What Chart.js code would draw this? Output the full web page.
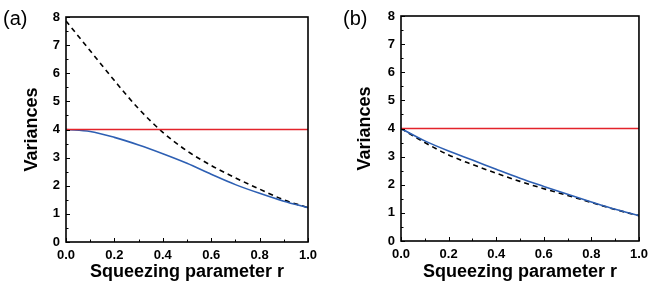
<!DOCTYPE html>
<html>
<head>
<meta charset="utf-8">
<script src="https://cdn.jsdelivr.net/npm/chart.js@4/dist/chart.umd.min.js"></script>
<style>
  body { margin: 0; background: #fff; }
  #wrap { position: relative; width: 654px; height: 289px; overflow: hidden; }
  canvas { position: absolute; top: 0; }
  .tag { position: absolute; font: 20px "Liberation Sans", Arial, sans-serif; color: #000; line-height: 20px; }
</style>
</head>
<body>
<div id="wrap">
  <canvas id="chartA" width="327" height="289" style="left:0"></canvas>
  <canvas id="chartB" width="327" height="289" style="left:327px"></canvas>
  <div class="tag" style="left:3px; top:8px">(a)</div>
  <div class="tag" style="left:343px; top:8px">(b)</div>
</div>
<script>
// squeezing parameter r
var r = [0, 0.1, 0.2, 0.3, 0.4, 0.5, 0.6, 0.7, 0.8, 0.9, 1.0];

// panel (a)
var redA = [4, 4, 4, 4, 4, 4, 4, 4, 4, 4, 4];
var blueA = [4.0, 3.93, 3.72, 3.45, 3.14, 2.8, 2.41, 2.04, 1.73, 1.45, 1.22];
var dashA = [7.86, 6.8, 5.74, 4.74, 3.9, 3.24, 2.72, 2.28, 1.88, 1.5, 1.22];

// panel (b)
var redB = [4, 4, 4, 4, 4, 4, 4, 4, 4, 4, 4];
var blueB = [4.0, 3.56, 3.2, 2.88, 2.55, 2.23, 1.94, 1.66, 1.39, 1.13, 0.9];
var dashB = [4.0, 3.5, 3.06, 2.72, 2.41, 2.12, 1.86, 1.62, 1.37, 1.12, 0.9];

var xTicks = [0, 0.2, 0.4, 0.6, 0.8, 1.0];
var xMinor = [0.1, 0.3, 0.5, 0.7, 0.9];
var yTicks = [0, 1, 2, 3, 4, 5, 6, 7, 8];
var yMinor = [0.5, 1.5, 2.5, 3.5, 4.5, 5.5, 6.5, 7.5];

var RED = "#e3232b";
var BLUE = "#2d5fb3";
var FONT = "'Liberation Sans', Arial, sans-serif";

function pts(ys) {
  return r.map(function (x, i) { return { x: x, y: ys[i] }; });
}

// box round the plot and inward ticks on the bottom and left axes
var frame = {
  id: "frame",
  afterDatasetsDraw: function (chart) {
    var ctx = chart.ctx, a = chart.chartArea;
    var sx = chart.scales.x, sy = chart.scales.y;
    ctx.save();
    ctx.strokeStyle = "#000";
    ctx.lineWidth = 1;
    ctx.beginPath();
    xTicks.forEach(function (v) {
      var px = Math.round(sx.getPixelForValue(v)) + 0.5;
      ctx.moveTo(px, a.bottom); ctx.lineTo(px, a.bottom - 4);
    });
    xMinor.forEach(function (v) {
      var px = Math.round(sx.getPixelForValue(v)) + 0.5;
      ctx.moveTo(px, a.bottom); ctx.lineTo(px, a.bottom - 2.5);
    });
    yTicks.forEach(function (v) {
      var py = Math.round(sy.getPixelForValue(v)) + 0.5;
      ctx.moveTo(a.left, py); ctx.lineTo(a.left + 4, py);
    });
    yMinor.forEach(function (v) {
      var py = Math.round(sy.getPixelForValue(v)) + 0.5;
      ctx.moveTo(a.left, py); ctx.lineTo(a.left + 2.5, py);
    });
    ctx.stroke();
    ctx.lineWidth = 1.6;
    ctx.strokeRect(a.left, a.top, a.right - a.left, a.bottom - a.top);
    ctx.restore();
  }
};

function makeChart(id, red, blue, dash, pad, yWidth, xHeight, titleGap) {
  var ctx = document.getElementById(id).getContext("2d");
  return new Chart(ctx, {
    type: "line",
    data: {
      datasets: [
        { data: pts(red), borderColor: RED, borderWidth: 1.5, pointRadius: 0, tension: 0 },
        { data: pts(blue), borderColor: BLUE, borderWidth: 1.6, pointRadius: 0, cubicInterpolationMode: "monotone" },
        { data: pts(dash), borderColor: "#000", borderWidth: 1.6, borderDash: [5, 4], pointRadius: 0, cubicInterpolationMode: "monotone" }
      ]
    },
    options: {
      responsive: false,
      animation: false,
      layout: { padding: pad },
      plugins: { legend: { display: false }, tooltip: { enabled: false } },
      scales: {
        x: {
          type: "linear",
          min: 0,
          max: 1,
          afterBuildTicks: function (s) { s.ticks = xTicks.map(function (v) { return { value: v }; }); },
          afterFit: function (s) { s.height = xHeight; },
          grid: { display: false, drawTicks: false },
          border: { display: false },
          ticks: {
            padding: 6,
            color: "#000",
            maxRotation: 0,
            font: { family: FONT, size: 13, weight: "bold" },
            callback: function (v) { return Number(v).toFixed(1); }
          },
          title: {
            display: true,
            text: "Squeezing parameter r",
            color: "#000",
            padding: { top: 0, bottom: 6 },
            font: { family: FONT, size: 18, weight: "bold" }
          }
        },
        y: {
          type: "linear",
          min: 0,
          max: 8,
          afterBuildTicks: function (s) { s.ticks = yTicks.map(function (v) { return { value: v }; }); },
          afterFit: function (s) { s.width = yWidth; },
          grid: { display: false, drawTicks: false },
          border: { display: false },
          ticks: {
            padding: 6,
            color: "#000",
            font: { family: FONT, size: 13, weight: "bold" }
          },
          title: {
            display: true,
            text: "Variances",
            color: "#000",
            padding: { top: titleGap, bottom: 0 },
            font: { family: FONT, size: 18, weight: "bold" }
          }
        }
      }
    },
    plugins: [frame]
  });
}

makeChart("chartA", redA, blueA, dashA, { left: 0, right: 19, top: 17, bottom: 0 }, 66, 47, 21);
makeChart("chartB", redB, blueB, dashB, { left: 0, right: 11, top: 16, bottom: 0 }, 74, 48, 27);
</script>
</body>
</html>
